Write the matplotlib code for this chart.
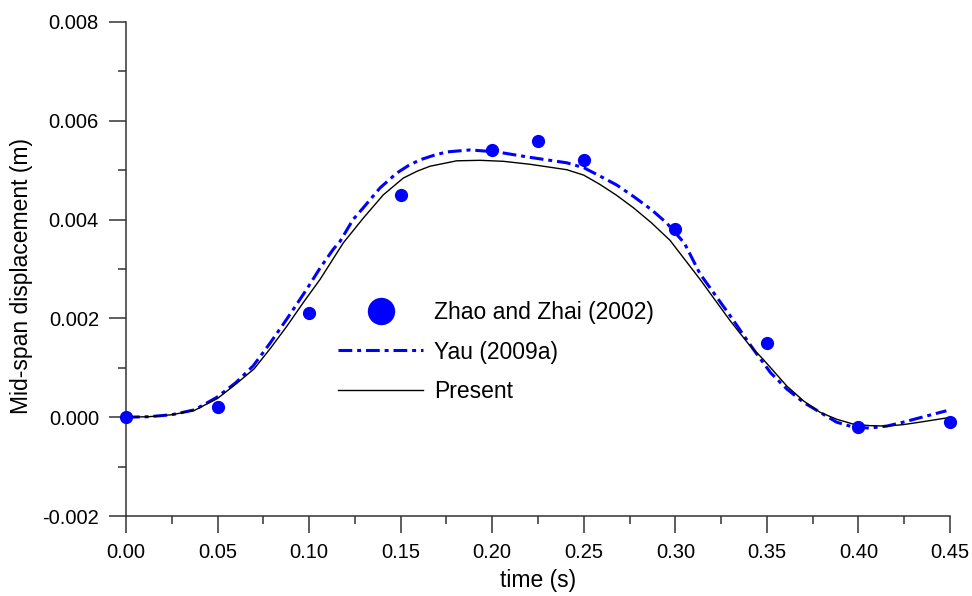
import numpy as np
import matplotlib.pyplot as plt
from matplotlib.ticker import MultipleLocator, FormatStrFormatter

plt.rcParams['font.family'] = ['Liberation Sans', 'DejaVu Sans']

# Zhao and Zhai (2002) - measured points
t_zhao = [0.0, 0.05, 0.10, 0.15, 0.20, 0.225, 0.25, 0.30, 0.35, 0.40, 0.45]
d_zhao = [0.0, 0.0002, 0.0021, 0.0045, 0.0054, 0.0056, 0.0052, 0.0038, 0.0015, -0.0002, -0.0001]

# Yau (2009a)
t_yau = [0.0, 0.0125, 0.025, 0.0375, 0.0495, 0.06, 0.0695, 0.0787, 0.0877, 0.0987,
         0.106, 0.1132, 0.1169, 0.124, 0.1296, 0.1387, 0.1478, 0.1545, 0.1606, 0.168,
         0.1752, 0.188, 0.2025, 0.2206, 0.2407, 0.25, 0.2589, 0.268, 0.2771, 0.287,
         0.2953, 0.305, 0.3135, 0.33, 0.3427, 0.352, 0.3609, 0.37, 0.379, 0.388,
         0.3972, 0.406, 0.4154, 0.4245, 0.4336, 0.448]
d_yau = [0.0, 0.00001, 0.00005, 0.00015, 0.0004, 0.0007, 0.00104, 0.0015, 0.00198, 0.00259,
         0.00302, 0.0034, 0.00356, 0.004, 0.00424, 0.00464, 0.00494, 0.0051, 0.00521, 0.0053,
         0.00537, 0.00541, 0.00537, 0.00526, 0.00515, 0.00505, 0.00488, 0.0047, 0.00447, 0.0042,
         0.00393, 0.00352, 0.0029, 0.00205, 0.00137, 0.0009, 0.00057, 0.0003, 0.0001, -0.0001,
         -0.0002, -0.00022, -0.00018, -0.0001, -0.00001, 0.00013]

# Present
t_pres = [0.0, 0.0125, 0.025, 0.0375, 0.05, 0.06, 0.07, 0.079, 0.088, 0.097,
          0.106, 0.1187, 0.1296, 0.1405, 0.1514, 0.159, 0.166, 0.1806, 0.1933, 0.2061,
          0.2206, 0.2407, 0.25, 0.2589, 0.268, 0.2771, 0.2871, 0.2971, 0.3135, 0.33,
          0.34, 0.348, 0.3609, 0.37, 0.379, 0.388, 0.3972, 0.406, 0.4154, 0.4245,
          0.4336, 0.449]
d_pres = [0.0, 0.00001, 0.00005, 0.00014, 0.00038, 0.00067, 0.00098, 0.0014, 0.00185, 0.00233,
          0.00279, 0.00353, 0.00403, 0.0045, 0.00484, 0.00498, 0.00508, 0.00519, 0.0052, 0.00518,
          0.00512, 0.00501, 0.0049, 0.00471, 0.00449, 0.00424, 0.00393, 0.00358, 0.00279, 0.00195,
          0.00148, 0.00117, 0.00063, 0.00033, 0.0001, -0.00004, -0.00014, -0.00017, -0.00018, -0.00015,
          -0.0001, -0.00001]

fig = plt.figure(figsize=(9.72, 5.96), dpi=100)
ax = fig.add_axes([0.1296, 0.1342, 0.8478, 0.8289])

ax.plot(t_zhao, d_zhao, 'o', color='#0000ff', markersize=8.5, clip_on=False,
        label='Zhao and Zhai (2002)', zorder=3)
line_yau, = ax.plot(t_yau, d_yau, color='#0000ff', lw=2.2, label='Yau (2009a)', zorder=2)
line_yau.set_dashes([4.5, 1.6, 1.3, 1.6])
ax.plot(t_pres, d_pres, color='black', lw=1.0, label='Present', zorder=2)

ax.set_xlim(0, 0.45)
ax.set_ylim(-0.002, 0.008)
ax.xaxis.set_major_locator(MultipleLocator(0.05))
ax.xaxis.set_minor_locator(MultipleLocator(0.025))
ax.yaxis.set_major_locator(MultipleLocator(0.002))
ax.yaxis.set_minor_locator(MultipleLocator(0.001))
ax.xaxis.set_major_formatter(FormatStrFormatter('%.2f'))
ax.yaxis.set_major_formatter(FormatStrFormatter('%.3f'))

for s in ['top', 'right']:
    ax.spines[s].set_visible(False)
for s in ['left', 'bottom']:
    ax.spines[s].set_linewidth(1.1)
    ax.spines[s].set_color('#333333')

ax.tick_params(which='major', direction='out', length=12, width=1.1, color='#333333',
               labelsize=14.5, pad=7.5)
ax.tick_params(which='minor', direction='out', length=6, width=1.1, color='#333333')

ax.set_xlabel('time (s)', fontsize=16.5, labelpad=5)
ax.set_ylabel('Mid-span displacement (m)', fontsize=16.5, labelpad=6.5)
ax.yaxis.label.set_y(0.486)

leg = ax.legend(loc='center left', bbox_to_anchor=(0.2464, 0.332), borderaxespad=0,
                frameon=False, fontsize=16.5, markerscale=2.2, handlelength=3.7,
                handletextpad=0.48, labelspacing=0.7, numpoints=1)

fig.savefig('out.png', dpi=100)
